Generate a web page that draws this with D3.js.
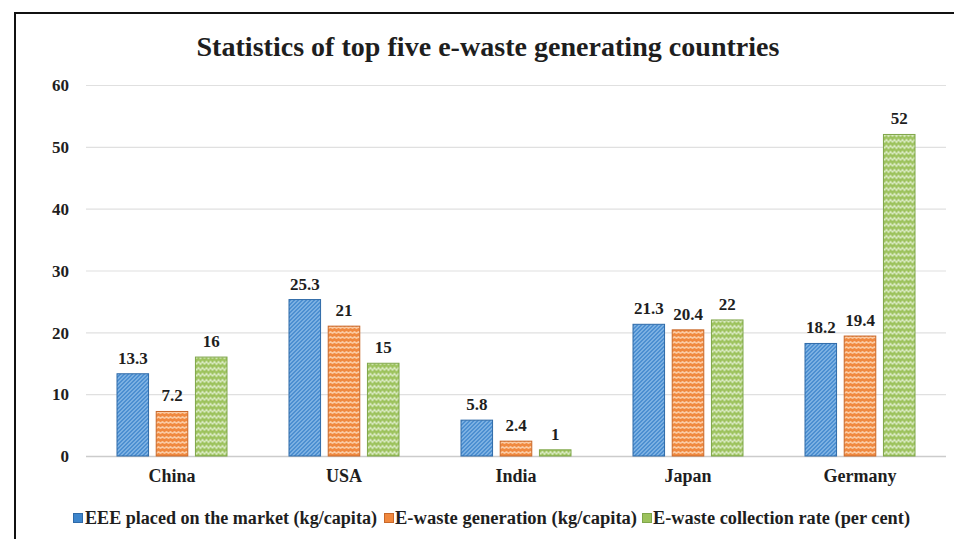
<!DOCTYPE html>
<html>
<head>
<meta charset="utf-8">
<script src="https://cdn.jsdelivr.net/npm/d3@7"></script>
<style>
  html, body { margin: 0; padding: 0; background: #fff; }
  svg { display: block; }
</style>
</head>
<body>
<svg id="chart" width="954" height="539"></svg>
<script>
const countries = ["China", "USA", "India", "Japan", "Germany"];
const eeePlaced = [13.3, 25.3, 5.8, 21.3, 18.2];
const wasteGeneration = [7.2, 21, 2.4, 20.4, 19.4];
const collectionRate = [16, 15, 1, 22, 52];
const seriesNames = [
  "EEE placed on the market (kg/capita)",
  "E-waste generation (kg/capita)",
  "E-waste collection rate (per cent)"
];
const yTicks = [0, 10, 20, 30, 40, 50, 60];

const series = [
  { name: seriesNames[0], values: eeePlaced, key: "eee" },
  { name: seriesNames[1], values: wasteGeneration, key: "gen" },
  { name: seriesNames[2], values: collectionRate, key: "col" }
];

const FONT = '"Liberation Serif", "Times New Roman", serif';
const TEXT = "#1e1e1e";
const styleText = sel => sel.style("font-family", FONT).style("font-weight", "bold").style("fill", TEXT);

const svg = d3.select("#chart");
const W = 954, H = 539;

// Fill patterns for the three series
const defs = svg.append("defs");
const blue = defs.append("pattern").attr("id", "p-eee")
  .attr("patternUnits", "userSpaceOnUse").attr("width", 4).attr("height", 4);
blue.append("rect").attr("width", 4).attr("height", 4).attr("fill", "#3d85cc");
blue.append("path").attr("d", "M-1,1 L1,-1 M0,4 L4,0 M3,5 L5,3")
  .attr("stroke", "#a3cbef").attr("stroke-width", 1.1);

const orange = defs.append("pattern").attr("id", "p-gen")
  .attr("patternUnits", "userSpaceOnUse").attr("width", 8).attr("height", 5);
orange.append("rect").attr("width", 8).attr("height", 5).attr("fill", "#f0883e");
orange.append("path").attr("d", "M0,3.5 L2,1.5 L4,3.5 L6,1.5 L8,3.5")
  .attr("fill", "none").attr("stroke", "#fdd6b5").attr("stroke-width", 1.2);

const green = defs.append("pattern").attr("id", "p-col")
  .attr("patternUnits", "userSpaceOnUse").attr("width", 8).attr("height", 6);
green.append("rect").attr("width", 8).attr("height", 6).attr("fill", "#9cc25c");
green.append("path").attr("d", "M0,4.5 L2,1.5 L4,4.5 L6,1.5 L8,4.5")
  .attr("fill", "none").attr("stroke", "#dcebc6").attr("stroke-width", 1.3);

const strokeColors = { eee: "#2f6aa8", gen: "#c8682a", col: "#7fa64a" };
const legendColors = { eee: "#3d85cc", gen: "#f0883e", col: "#9cc25c" };

// Outer frame
svg.append("rect").attr("x", 15).attr("y", 13).attr("width", W + 10).attr("height", H + 10)
  .attr("fill", "#fff").attr("stroke", "#111").attr("stroke-width", 2);

// Title
svg.append("text").attr("x", 488).attr("y", 56).attr("text-anchor", "middle")
  .attr("textLength", 583).attr("lengthAdjust", "spacingAndGlyphs")
  .call(styleText).style("font-size", "27px")
  .text("Statistics of top five e-waste generating countries");

const plot = { left: 86, right: 946, top: 85, bottom: 456 };

const x0 = d3.scaleBand().domain(countries).range([plot.left, plot.right]).paddingInner(0).paddingOuter(0);
const groupW = 111;
const x1 = d3.scaleBand().domain(series.map(s => s.key)).range([0, groupW]).paddingInner(0.17);
const y = d3.scaleLinear().domain([0, 60]).range([plot.bottom, plot.top]);

// Gridlines
svg.append("g").selectAll("line").data(yTicks).join("line")
  .attr("x1", plot.left).attr("x2", plot.right)
  .attr("y1", d => y(d) + 0.5).attr("y2", d => y(d) + 0.5)
  .attr("stroke", d => d === 0 ? "#cccccc" : "#e0e0e0").attr("stroke-width", d => d === 0 ? 1.5 : 1.2);

// Y axis labels
const yAxis = d3.axisLeft(y).tickValues(yTicks).tickSize(0).tickPadding(0);
const yg = svg.append("g").attr("transform", `translate(${plot.left - 17},0)`).call(yAxis);
yg.select(".domain").remove();
yg.selectAll("text").call(styleText).style("font-size", "17px").attr("dy", "0.34em");

// Bars
const groups = svg.append("g").selectAll("g").data(countries).join("g")
  .attr("transform", d => `translate(${x0(d) + (x0.bandwidth() - groupW) / 2},0)`);

groups.each(function(c, i) {
  const g = d3.select(this);
  series.forEach(s => {
    const v = s.values[i];
    g.append("rect")
      .attr("x", x1(s.key) + 0.5).attr("y", y(v))
      .attr("width", x1.bandwidth() - 1).attr("height", y(0) - y(v))
      .attr("fill", `url(#p-${s.key})`)
      .attr("stroke", strokeColors[s.key]).attr("stroke-width", 1);
    g.append("text")
      .attr("x", x1(s.key) + x1.bandwidth() / 2).attr("y", y(v) - 10)
      .attr("text-anchor", "middle")
      .call(styleText).style("font-size", "17px")
      .text(v);
  });
});

// Category labels
const xAxis = d3.axisBottom(x0).tickSize(0).tickPadding(0);
const xg = svg.append("g").attr("transform", `translate(0,${plot.bottom + 26})`).call(xAxis);
xg.select(".domain").remove();
xg.selectAll("text").call(styleText).style("font-size", "18px").attr("dy", 0);

// Legend: swatch position and text extent for each entry
const legendItems = [
  { key: "eee", x: 73, textStart: 85, textEnd: 377 },
  { key: "gen", x: 384, textStart: 395, textEnd: 637 },
  { key: "col", x: 642, textStart: 653, textEnd: 910 }
];
const lg = svg.append("g");
legendItems.forEach((it, i) => {
  lg.append("rect").attr("x", it.x + 0.5).attr("y", 513.5).attr("width", 9).attr("height", 9)
    .attr("fill", legendColors[it.key]).attr("stroke", strokeColors[it.key]).attr("stroke-width", 1);
  lg.append("text").attr("x", it.textStart).attr("y", 524)
    .attr("textLength", it.textEnd - it.textStart).attr("lengthAdjust", "spacingAndGlyphs")
    .call(styleText).style("font-size", "18px")
    .text(series[i].name);
});
</script>
</body>
</html>
